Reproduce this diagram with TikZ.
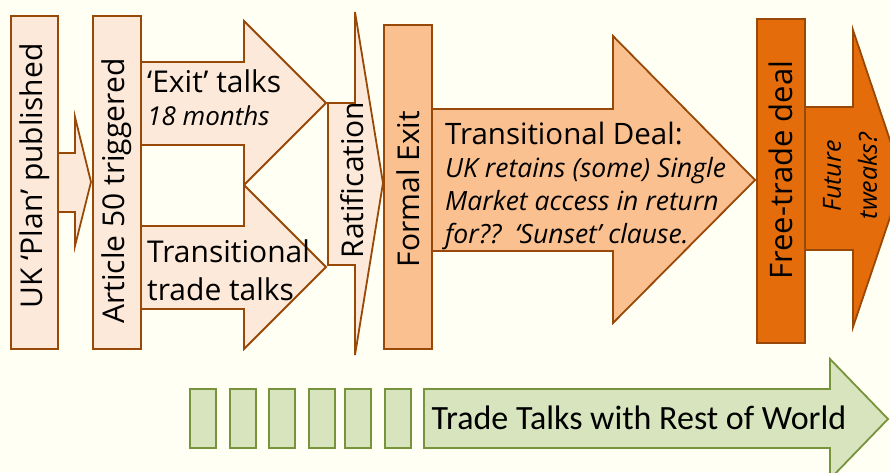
\documentclass[tikz,border=0pt]{standalone}
\usepackage{fontspec}
\setmainfont{Open Sans}
\newfontfamily\calfont{Carlito}
\usepackage{tikz}
\definecolor{bgcream}{HTML}{FFFFF3}
\definecolor{peach}{HTML}{FDE9D9}
\definecolor{apricot}{HTML}{FAC090}
\definecolor{rust}{HTML}{E46C0A}
\definecolor{brownline}{HTML}{984807}
\definecolor{sage}{HTML}{D7E4BD}
\definecolor{olive}{HTML}{77933C}

\begin{document}
\begin{tikzpicture}[x=1pt,y=-1pt,
		stage/.style={draw=brownline, line width=1.8pt, line join=miter},
		box/.style={stage, rotate=90, inner sep=0pt, font=\fontsize{30}{36}\selectfont},
		greenbox/.style={draw=olive, fill=sage, line width=1.8pt, inner sep=0pt},
		note/.style={align=left, anchor=north west, inner sep=0pt}
	]
		\fill[bgcream] (0,0) rectangle (890,472);
		\clip (0,0) rectangle (890,472);
		% block arrows first, boxes on top
		\draw[stage, fill=peach] (58,153) -- (75,153) -- (75,117) -- (91,182) -- (75,246) -- (75,212) -- (58,212) -- cycle;
		\draw[stage, fill=peach] (141,62) -- (244,62) -- (244,21) -- (326,103) -- (244,185) -- (244,145) -- (141,145) -- cycle;
		\draw[stage, fill=peach] (141,226) -- (244,226) -- (244,185) -- (326,267) -- (244,349) -- (244,309) -- (141,309) -- cycle;
		\draw[stage, fill=peach] (328,103) -- (355,103) -- (355,12) -- (383,183) -- (355,355) -- (355,265) -- (328,265) -- cycle;
		\draw[stage, fill=apricot] (432,109) -- (613,109) -- (613,36) -- (755,180) -- (613,323) -- (613,251) -- (432,251) -- cycle;
		\draw[stage, fill=rust] (805,107) -- (853,107) -- (853,30) -- (903,179) -- (853,327) -- (853,250) -- (805,250) -- cycle;
		\draw[greenbox] (424,389) -- (830,389) -- (830,359) -- (888,419) -- (830,479) -- (830,448) -- (424,448) -- cycle;
		
		\node[box, fill=peach, minimum width=333pt, minimum height=47pt] (plan) at (34.5,182.5) {\hspace*{13pt}UK ‘Plan’ published};
		\node[box, fill=peach, minimum width=333pt, minimum height=48pt] (art50) at (117,182.5) {Article 50 triggered\hspace*{17pt}};
		\node[box, fill=apricot, minimum width=324pt, minimum height=48pt] (formal) at (408,187) {Formal Exit\hspace*{4pt}};
		\node[box, fill=rust, minimum width=324pt, minimum height=48pt, font=\fontsize{31}{36}\selectfont] (fta) at (781,181) {\hspace*{22pt}Free-trade deal};
		
		\node[note, font=\fontsize{30}{33}\selectfont] (exit) at (147,70) {‘Exit’ talks\\{\itshape\fontsize{26}{32}\selectfont 18 months}};
		\node[note, font=\fontsize{30}{38}\selectfont] (trans) at (147,239) {Transitional\\trade talks};
		\node[rotate=90, inner sep=0pt, font=\fontsize{30}{36}\selectfont] (ratif) at (352,180) {Ratification};
		\node[note, font=\fontsize{29.5}{33}\selectfont] (deal) at (445,122) {Transitional Deal:\\{\itshape\fontsize{26.5}{33}\selectfont UK retains (some) Single}\\{\itshape\fontsize{26.5}{32}\selectfont Market access in return}\\{\itshape\fontsize{26.5}{31}\selectfont for??\ \ ‘Sunset’ clause.}};
		\node[rotate=90, align=center, inner sep=0pt, font=\itshape\fontsize{25}{36}\selectfont] (tweaks) at (850,176) {Future\\tweaks?};
		
		\foreach \gx [count=\i] in {190,230,269,309,345,385}
			\node[greenbox, minimum width=26pt, minimum height=59pt] (g\i) at (\gx+13,418.5) {};
		\node[inner sep=0pt, font=\calfont\fontsize{34}{40}\selectfont] (row) at (639,418) {Trade Talks with Rest of World};
	\end{tikzpicture}
\end{document}
